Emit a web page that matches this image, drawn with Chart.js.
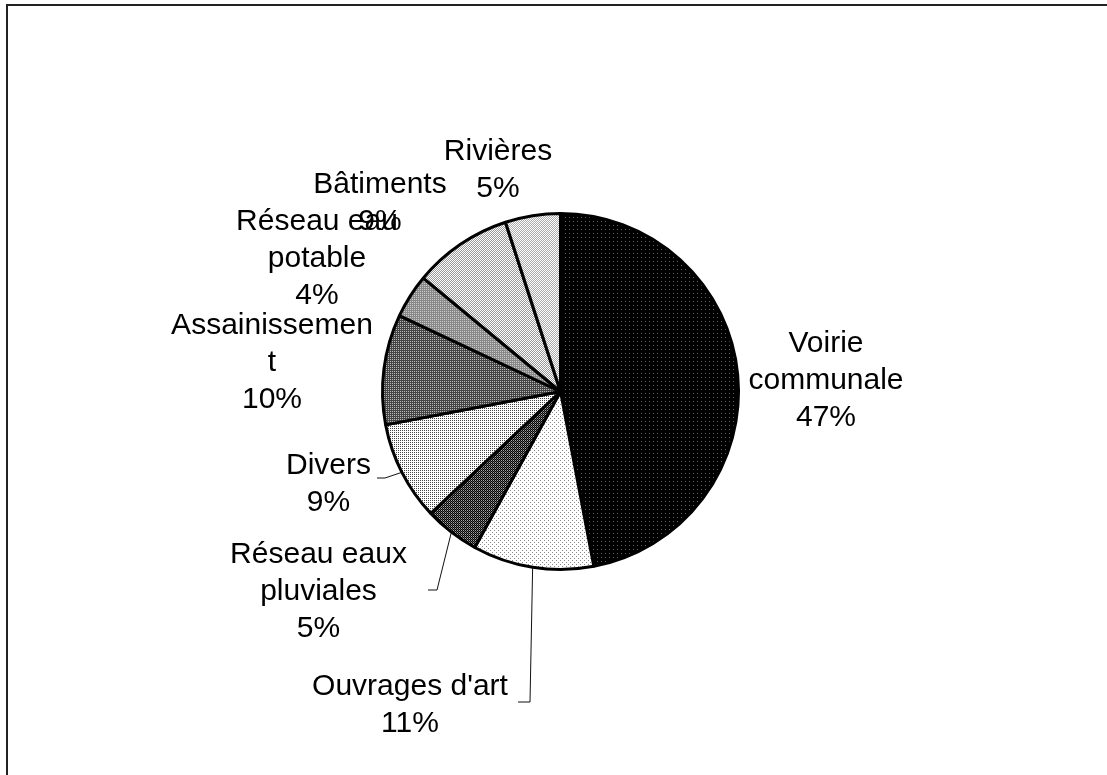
<!DOCTYPE html>
<html>
<head>
<meta charset="utf-8">
<script src="https://cdn.jsdelivr.net/npm/chart.js@4/dist/chart.umd.min.js"></script>
<style>
  html, body { margin: 0; padding: 0; background: #fff; }
  #wrap { position: relative; width: 1107px; height: 775px; }
</style>
</head>
<body>
<div id="wrap"><canvas id="chart" width="1107" height="775"></canvas></div>
<script>
// Répartition des travaux par domaine (%)
const categories = [
  ['Voirie', 'communale'],
  ["Ouvrages d'art"],
  ['Réseau eaux', 'pluviales'],
  ['Divers'],
  ['Assainissemen', 't'],
  ['Réseau eau', 'potable'],
  ['Bâtiments'],
  ['Rivières']
];
const shares = [47, 11, 5, 9, 10, 4, 9, 5];

// Hatch tiles: each character is a grey level in hex (0 = black, f = white)
const tiles = [
  ['0000', '0600', '0000', '0000'],
  ['8fff', 'ffff', 'ff8f', 'ffff'],
  ['0a', '50'],
  ['4f4f', 'ffff'],
  ['44', 'b4'],
  ['88', 'c8'],
  ['f9', '9f'],
  ['fa', 'af']
];

// Label placement relative to the pie centre, and leader-line bends
const labelOffsets = [
  [265.5, -13], [-150.5, 311], [-242, 197.5], [-232, 90],
  [-288.5, -31.5], [-243.5, -135], [-180.5, -190.5], [-62.5, -224]
];
const leaderBends = [
  null,
  [[-30.5, 310.5], [-42.5, 310.5]],
  [[-123.5, 198.5], [-132.5, 198.5]],
  [[-175.5, 86.5], [-183.5, 86.5]],
  null, null, null, null
];
const LINE_H = 37;
const FONT = '30px "Liberation Sans", Arial, sans-serif';

function makePattern(rows) {
  const h = rows.length, w = rows[0].length;
  const c = document.createElement('canvas');
  c.width = w; c.height = h;
  const g = c.getContext('2d');
  for (let y = 0; y < h; y++) {
    for (let x = 0; x < w; x++) {
      const v = parseInt(rows[y][x], 16) * 17;
      g.fillStyle = `rgb(${v},${v},${v})`;
      g.fillRect(x, y, 1, 1);
    }
  }
  return g.createPattern(c, 'repeat');
}

const framePlugin = {
  id: 'frame',
  beforeDraw(chart) {
    const ctx = chart.ctx;
    ctx.save();
    ctx.fillStyle = '#fff';
    ctx.fillRect(0, 0, chart.width, chart.height);
    ctx.fillStyle = '#222';
    ctx.fillRect(6, 4, chart.width - 6, 2);
    ctx.fillRect(6, 4, 2, chart.height - 4);
    ctx.restore();
  }
};

const labelPlugin = {
  id: 'sliceLabels',
  afterDatasetsDraw(chart) {
    const ctx = chart.ctx;
    const meta = chart.getDatasetMeta(0);
    ctx.save();
    ctx.font = FONT;
    ctx.fillStyle = '#000';
    ctx.textAlign = 'center';
    ctx.textBaseline = 'alphabetic';
    meta.data.forEach((arc, i) => {
      const p = arc.getProps(['x', 'y', 'outerRadius', 'startAngle', 'endAngle'], true);
      const mid = (p.startAngle + p.endAngle) / 2;
      const bends = leaderBends[i];
      if (bends) {
        ctx.beginPath();
        ctx.moveTo(p.x + Math.cos(mid) * p.outerRadius, p.y + Math.sin(mid) * p.outerRadius);
        bends.forEach(([dx, dy]) => ctx.lineTo(p.x + dx, p.y + dy));
        ctx.strokeStyle = '#111';
        ctx.lineWidth = 1;
        ctx.stroke();
      }
      const lines = [].concat(chart.data.labels[i], shares[i] + '%');
      const [ox, oy] = labelOffsets[i];
      const first = p.y + oy - (lines.length - 1) * LINE_H / 2;
      lines.forEach((t, k) => ctx.fillText(t, p.x + ox, first + k * LINE_H + 10.5));
    });
    ctx.restore();
  }
};

new Chart(document.getElementById('chart'), {
  type: 'pie',
  data: {
    labels: categories,
    datasets: [{
      data: shares,
      backgroundColor: tiles.map(makePattern),
      borderColor: '#000',
      borderWidth: 3,
      radius: 178
    }]
  },
  options: {
    responsive: false,
    animation: false,
    layout: { padding: { left: 14, top: 8, right: 0, bottom: 0 } },
    plugins: {
      legend: { display: false },
      tooltip: { enabled: false }
    }
  },
  plugins: [framePlugin, labelPlugin]
});
</script>
</body>
</html>
